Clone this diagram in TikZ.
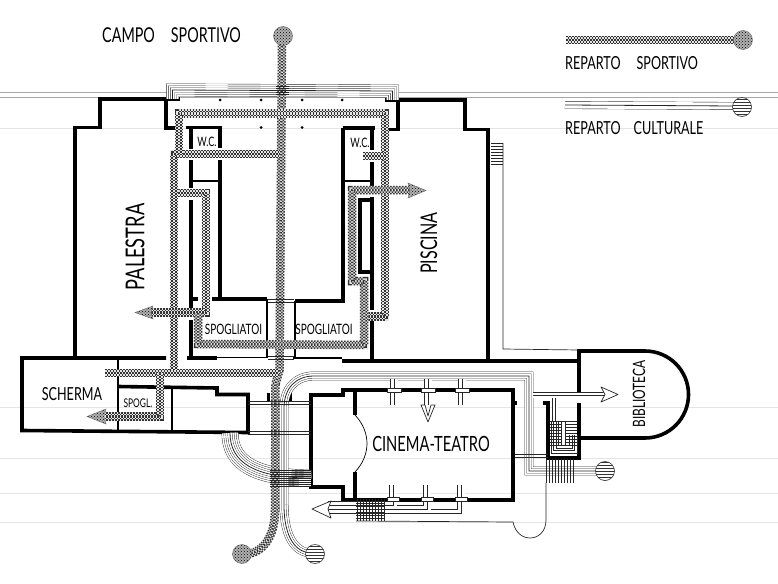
\documentclass[tikz,border=0pt]{standalone}
\usepackage{fontspec}
\usetikzlibrary{patterns}
\newfontfamily\planfont[FakeStretch=.7]{Lato}

% chequered corridor of the sports wing
\newcommand{\sportline}[1]{%
  \foreach \w/\ph in {8.5/0,5.5/1.5,2.5/0}{
    \draw [line width=\w pt, black!10] #1;
    \draw [line width=\w pt, black!80, dash pattern=on 1.5pt off 1.5pt, dash phase=\ph pt] #1;
  }
}
% ruled corridor of the cultural wing
\newcommand{\cultline}[2]{%
  \foreach \w in {#1}{
    \draw [line width=\w pt+0.8pt, black!85] #2;
    \draw [line width=\w pt, white] #2;
  }
  \draw [line width=0.8pt, black!85] #2;
}

\tikzset{
  wall/.style={line width=3.6pt, line join=miter, line cap=butt},
  thinwall/.style={line width=1.5pt},
  hair/.style={line width=0.7pt, black!85},
  rule/.style={line width=0.6pt, black!#1},
  sportfill/.style={preaction={fill=black!30}, pattern=crosshatch dots, pattern color=black, draw=black!60, line width=0.4pt},
  cultfill/.style={pattern=horizontal lines, pattern color=black!80, draw=black!80, line width=0.6pt},
  cultfoot/.style={fill=white, draw=black!85, line width=0.7pt, line join=round},
  lbl/.style={font=\planfont\fontsize{#1}{#1}\selectfont, inner sep=0pt},
  dot/.style={circle, fill=black, inner sep=0pt, minimum size=3pt},
}

\begin{document}
\begin{tikzpicture}[x=1pt, y=-1pt]
  \path [use as bounding box] (0,0) rectangle (778,583);

  % rules of the sheet
  \draw [rule=35] (0,92) -- (778,92);
  \draw [rule=35] (0,97) -- (778,97);
  \foreach \y in {128,407,458,493,522}
    \draw [rule=10] (0,\y) -- (778,\y);

  % palestra
  \draw [wall] (180,99) -- (100,99) -- (100,127.5) -- (75,127.5) -- (75,358);
  \draw [wall] (166,100) -- (166,128) -- (176,128);
  \draw [wall] (186,127.5) -- (220,127.5) -- (220,148);
  \draw [wall] (220,160) -- (220,299) -- (212,299);
  \draw [wall] (212,299) -- (267,299);
  \draw [wall] (191,128) -- (191,149);
  \draw [wall] (191,160) -- (191,188);
  \draw [wall] (191,200) -- (191,309);
  \draw [wall] (191,320) -- (191,358);
  \draw [wall] (191,299) -- (198,299);
  \draw [thinwall] (191,181) -- (219,181);
  \draw [thinwall] (267,299) -- (267,358);
  \draw [thinwall] (217,357.5) -- (267,357.5);

  % piscina
  \draw [wall] (385,100) -- (398,100) -- (398,129.5) -- (386,129.5);
  \draw [wall] (398,100) -- (465,100) -- (465,129.5) -- (488,129.5) -- (488,361);
  \draw [wall] (343,128) -- (375,128);
  \draw [wall] (343,128) -- (343,301) -- (295,301);
  \draw [wall] (372,128) -- (372,150);
  \draw [wall] (372,162) -- (372,186);
  \draw [wall] (372,197) -- (372,310);
  \draw [wall] (372,320) -- (372,361);
  \draw [wall] (372,200) -- (360,200) -- (360,272) -- (372,272);
  \draw [thinwall] (344,181) -- (372,181);
  \draw [thinwall] (295,301) -- (295,358);
  \draw [thinwall] (293,358) -- (342,358);
  \draw [wall] (342,361) -- (580,361);

  % scherma
  \draw [wall] (166,358) -- (22,358) -- (22,430.5) -- (248,432.5) -- (248,394.5)
    -- (217,394.5) -- (217,388) -- (118,386.5);
  \draw [wall] (187,358) -- (217,358);
  \draw [thinwall] (118,358) -- (118,431);
  \draw [thinwall] (172,388) -- (172,431);
  \fill (266.5,393) rectangle (270,402);
  \fill (288.5,393) rectangle (292,402);

  % cinema
  \draw [wall] (311,395) -- (343,395) -- (343,390) -- (513,390) -- (513,500)
    -- (343,500) -- (343,487) -- (311,487) -- cycle;
  \draw [wall] (355,390) -- (355,415);
  \draw [wall] (355,472) -- (355,500);
  \draw [line width=0.7pt] (355,415) .. controls (371,432) and (371,455) .. (355,472);
  \fill (513,401) rectangle (517,405);

  % biblioteca
  \draw [wall] (579,393) -- (579,351) -- (645,351) arc (-90:90:43.5) -- (579,438);
  \draw [wall] (579,403) -- (579,458) -- (548,458) -- (548,403) -- (543,403);

  % service strip beside the piscina
  \draw [hair] (503,143) -- (503,349) -- (579,350);
  \foreach \y in {143,146,...,164}
    \draw [hair] (491,\y) -- (503,\y);

  % service line behind the cinema
  \draw [hair] (546,483) -- (546,520) .. controls (546,532) and (538,538) .. (530,538)
    .. controls (522,538) and (515,532) .. (513,522) -- (356,521);

  % wide bundle under scherma
  \cultline{16,12,8,4}{(230,433) .. controls (230,462) and (254,478) .. (311,478)}

  % cultural wing: cinema, biblioteca and the two balls
  \cultline{12,8,4}{(172.5,99) -- (172.5,90) -- (392.5,91) -- (392.5,100)}
  \cultline{8,4}{(284,512) -- (284,408) .. controls (284,388) and (296,376) .. (314,376)
    -- (529,376) -- (529,471) -- (597,471)}
  \cultline{8,4}{(284,505) .. controls (284,538) and (296,553) .. (312,553)}

  % cinema doors, top
  \foreach \x in {394,428,462}{
    \cultline{7}{(\x,379) -- (\x,405)}
    \draw [hair, fill=white] (\x-7,388) rectangle (\x+7,392);
  }
  \draw [cultfoot] (421,405) -- (428,422) -- (435,405) -- (431,405) -- (428,416) -- (425,405) -- cycle;

  % cinema doors, bottom
  \cultline{7}{(461,485) -- (461,513) -- (328,513)}
  \cultline{7}{(427,485) -- (427,509) -- (328,509)}
  \cultline{7}{(393,485) -- (393,505) -- (328,505)}
  \foreach \x in {393,427,461}
    \draw [hair, fill=white] (\x-6,497.5) rectangle (\x+6,501.5);
  \draw [cultfoot] (331,501) -- (312,509) -- (331,518) -- (328,509) -- cycle;
  \foreach \x in {357,360,...,384}
    \draw [hair] (\x,499) -- (\x,521);
  \foreach \y in {503,506,...,518}
    \draw [hair] (356,\y) -- (384,\y);

  % biblioteca stair and arrow
  \cultline{5}{(555,396) -- (555,421)}
  \cultline{5}{(533,395) -- (605,395)}
  \draw [cultfoot] (601,387) -- (618,394.5) -- (601,402) -- (605,394.5) -- cycle;
  \foreach \d in {0,2.5,5,7.5}
    \draw [hair] (551+\d,421) -- (551+\d,453-\d) -- (577-\d,453-\d) -- (577-\d,435);
  \foreach \y in {421,424,...,445}
    \draw [hair] (550,\y) -- (577,\y);
  \draw [hair, fill=white] (561.5,421) rectangle (565.5,445);
  \foreach \x in {546,549,...,573}
    \draw [hair] (\x,459) -- (\x,483);
  \draw [hair] (515,454) -- (548,454);
  \draw [hair] (515,457) -- (548,457);

  % sports wing: main axis
  \sportline{(282,40) -- (279.5,370) -- (275.5,384) -- (275,510)
    .. controls (275,538) and (262,553) .. (246,554)}
  \sportline{(105,373) -- (279,373)}
  \sportline{(160,373) -- (160,416.5) -- (105,416.5)}

  % top corridor and left loop
  \sportline{(174,370) -- (174,154) -- (280,154)}
  \sportline{(179,154) -- (179,113.5) -- (385,113.5) -- (385,316.5) -- (368,316.5)}
  \sportline{(178,193) -- (206,193) -- (206,312.5) -- (150,312.5)}
  \sportline{(198,313) -- (198,344) -- (364,345) -- (364,281) -- (352,281) -- (352,190) -- (410,190)}
  \sportline{(363,156) -- (385,156)}

  % sport arrows
  \path [sportfill] (153,306) -- (135,312.5) -- (153,319) -- (151,312.5) -- cycle;
  \path [sportfill] (408,183) -- (426,190.5) -- (408,198) -- (410,190.5) -- cycle;
  \path [sportfill] (106,409) -- (87,416.5) -- (106,424) -- (104,416.5) -- cycle;

  % crossings that stay visible
  \foreach \y in {86,88,90,92,94}
    \draw [hair] (276,\y) -- (289,\y);
  \foreach \y in {401,404,431,434}
    \draw [hair] (248,\y) -- (311,\y);
  \foreach \y in {470,472,...,486}
    \draw [hair] (270,\y) -- (311,\y);
  \foreach \y in {299,302}
    \draw [hair] (268,\y) -- (294,\y);
  \foreach \y in {356,359}
    \draw [hair] (268,\y) -- (294,\y);

  % balls
  \path [sportfill] (283,36) circle (9.5);
  \path [sportfill] (242,554) circle (9.5);
  \path [cultfill, preaction={fill=white}] (315,554) circle (9.5);
  \path [cultfill, preaction={fill=white}] (605,471) circle (9.5);

  % columns
  \foreach \x/\y [count=\i] in {220/100,261/100,302/100,342/100,261/127.5,302/127.5}
    \node [dot] (col\i) at (\x,\y) {};

  % legend
  \sportline{(566,40) -- (735,40)}
  \path [sportfill] (743,40) circle (9.5);
  \cultline{7}{(565,105) -- (735,106)}
  \path [cultfill, preaction={fill=white}] (742,107) circle (9.5);
  \node [lbl=18, anchor=west] (legsport) at (565,63) {REPARTO\hspace{16pt}SPORTIVO};
  \node [lbl=18, anchor=west] (legcult) at (565,128.5) {REPARTO\hspace{13pt}CULTURALE};

  % room labels
  \node [lbl=20.5, anchor=west] (campo) at (102,35) {CAMPO\hspace{16pt}SPORTIVO};
  \node [lbl=26, rotate=90] (palestra) at (135,247) {PALESTRA};
  \node [lbl=23, rotate=90] (piscina) at (429,243) {PISCINA};
  \node [lbl=18] (scherma) at (72,394) {SCHERMA};
  \node [lbl=12] (spogl) at (138,403) {SPOGL.};
  \node [lbl=14.3] (spogliatoia) at (233.5,329) {SPOGLIATOI};
  \node [lbl=14.3] (spogliatoib) at (324,329) {SPOGLIATOI};
  \node [lbl=13] (wca) at (207,142) {W.C.};
  \node [lbl=13] (wcb) at (360,143) {W.C.};
  \node [lbl=21] (cinema) at (431,444) {CINEMA-TEATRO};
  \node [lbl=17, rotate=90] (biblioteca) at (639,394) {BIBLIOTECA};
\end{tikzpicture}
\end{document}
